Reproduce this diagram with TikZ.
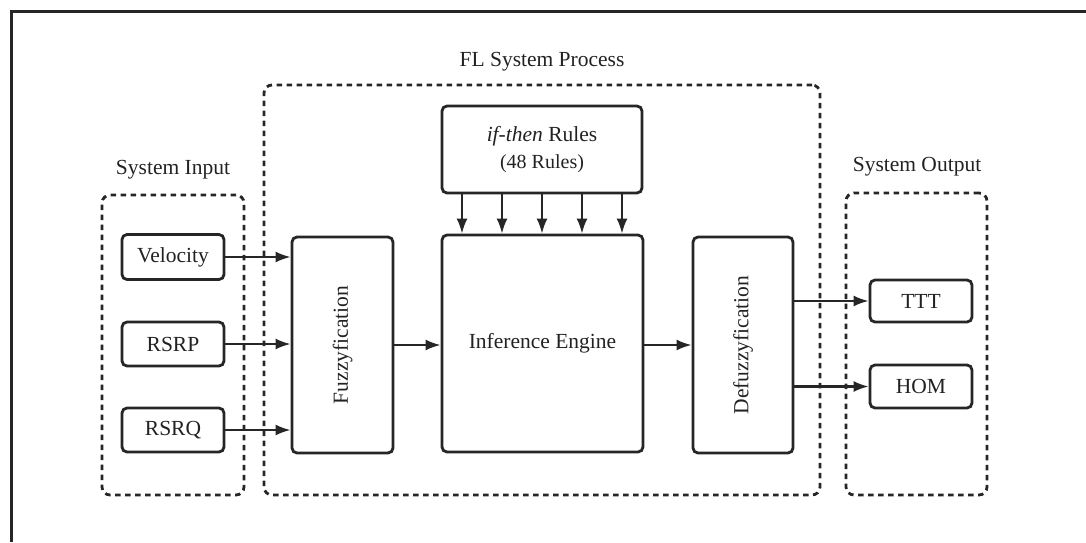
\documentclass[tikz,border=0pt]{standalone}
\usepackage{fontspec}
\setmainfont{Liberation Serif}
\usetikzlibrary{arrows.meta}
\definecolor{linec}{HTML}{262626}
\definecolor{txt}{HTML}{222222}
\newcommand{\lblfont}{\fontsize{21.5}{25}\selectfont}
\tikzset{
  box/.style={draw=linec, line width=2.8pt, rounded corners=5pt, fill=white,
    inner sep=0pt, text=txt, font=\lblfont, align=center},
  group/.style={draw=linec, line width=2.8pt, dash pattern=on 5.5pt off 4.5pt,
    rounded corners=8pt, inner sep=0pt},
  grouplabel/.style={text=txt, font=\lblfont, inner sep=0pt},
  arr/.style={draw=linec, line width=2.2pt, -{Latex[length=15pt,width=11pt]}}
}
\begin{document}
\begin{tikzpicture}[x=1pt,y=-1pt]
  \useasboundingbox (0,0) rectangle (1086,542);
  % frame
  \coordinate (fbl) at (11,542);
  \coordinate (ftl) at (11,11);
  \coordinate (ftr) at (1086,11);
  \draw[linec, line width=3pt] (fbl) -- (ftl) -- (ftr);

  % dashed groups
  \node[group, minimum width=142pt, minimum height=300pt] (gin) at (173,345) {};
  \node[group, minimum width=556pt, minimum height=410pt] (gproc) at (542,290) {};
  \node[group, minimum width=141pt, minimum height=302pt] (gout) at (916.5,344) {};
  \node[grouplabel] (lin) at (173,170) {System Input};
  \node[grouplabel] (lproc) at (542,62) {FL System Process};
  \node[grouplabel] (lout) at (917,167) {System Output};

  % inputs
  \node[box, minimum width=102pt, minimum height=45pt] (vel) at (173,257) {Velocity};
  \node[box, minimum width=102pt, minimum height=44pt] (rsrp) at (173,344) {RSRP};
  \node[box, minimum width=102pt, minimum height=44pt] (rsrq) at (173,430) {RSRQ};

  % processing blocks
  \node[box, minimum width=101pt, minimum height=216pt] (fuz) at (342.5,345) {\rotatebox{90}{Fuzzyfication}};
  \node[box, minimum width=201pt, minimum height=217pt] (inf) at (542.5,343.5) {Inference Engine};
  \node[box, minimum width=100pt, minimum height=216pt] (def) at (743,345) {\rotatebox{90}{Defuzzyfication}};
  \node[box, minimum width=200pt, minimum height=87pt] (rules) at (542,149.5)
    {\textit{if-then} Rules\\[2pt]{\fontsize{20}{24}\selectfont(48 Rules)}};

  % outputs
  \node[box, minimum width=102pt, minimum height=42pt] (ttt) at (921,301) {TTT};
  \node[box, minimum width=102pt, minimum height=43pt] (hom) at (921,386.5) {HOM};

  % connectors
  \draw[arr] (vel.east) -- (vel.east -| fuz.west);
  \draw[arr] (rsrp.east) -- (rsrp.east -| fuz.west);
  \draw[arr] (rsrq.east) -- (rsrq.east -| fuz.west);
  \draw[arr] (fuz.east) -- (fuz.east -| inf.west);
  \draw[arr] (def.west -| inf.east) -- (def.west);
  \foreach \x in {462,502,542,582,622}
    \draw[arr] (rules.south -| \x,0) -- (inf.north -| \x,0);
  \draw[arr] (ttt.west -| def.east) -- (ttt.west);
  \draw[arr] (hom.west -| def.east) -- (hom.west);
\end{tikzpicture}
\end{document}
